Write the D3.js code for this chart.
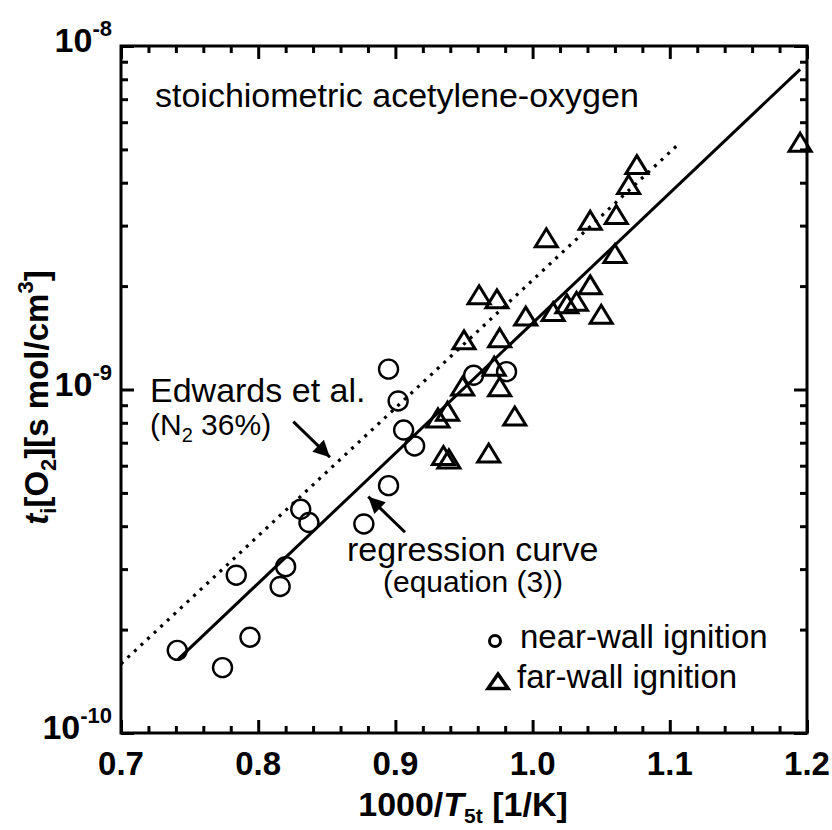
<!DOCTYPE html>
<html>
<head>
<meta charset="utf-8">
<script src="https://cdn.jsdelivr.net/npm/d3@7"></script>
<style>
  body { margin: 0; background: #fff; }
  svg { display: block; font-family: "Liberation Sans", Arial, sans-serif; }
</style>
</head>
<body>
<svg id="chart" width="832" height="830"></svg>
<script>
// near-wall ignition (circles)
const nearX = [0.741, 0.774, 0.794, 0.784, 0.816, 0.820, 0.831, 0.837, 0.877, 0.895, 0.895, 0.902, 0.906, 0.914, 0.957, 0.981];
const nearY = [1.74e-10, 1.55e-10, 1.90e-10, 2.88e-10, 2.67e-10, 3.05e-10, 4.48e-10, 4.10e-10, 4.06e-10, 5.25e-10, 1.146e-9, 9.26e-10, 7.62e-10, 6.85e-10, 1.10e-9, 1.127e-9];

// far-wall ignition (triangles)
const farX = [1.076, 1.070, 1.061, 1.042, 1.010, 1.060, 1.042, 0.961, 0.974, 1.032, 1.025, 1.015, 0.995, 1.050, 0.950, 0.976, 0.972, 0.949, 0.976, 0.938, 0.931, 0.987, 0.935, 0.939, 0.968, 1.195];
const farY = [4.50e-9, 3.94e-9, 3.22e-9, 3.10e-9, 2.755e-9, 2.48e-9, 2.01e-9, 1.88e-9, 1.83e-9, 1.80e-9, 1.77e-9, 1.68e-9, 1.63e-9, 1.65e-9, 1.39e-9, 1.41e-9, 1.165e-9, 1.02e-9, 1.015e-9, 8.62e-10, 8.24e-10, 8.34e-10, 6.40e-10, 6.26e-10, 6.51e-10, 5.23e-9];

// regression curve (equation (3)) and Edwards et al. line, end points
const regX = [0.741, 1.195];
const regY = [1.63e-10, 8.55e-9];
const edwX = [0.7, 1.107];
const edwY = [1.59e-10, 5.21e-9];

// axis ticks
const xMajor = [0.7, 0.8, 0.9, 1.0, 1.1, 1.2];
const xLabels = ["0.7", "0.8", "0.9", "1.0", "1.1", "1.2"];
const yMajor = [1e-10, 1e-9, 1e-8];
const yExp = ["-10", "-9", "-8"];

const svg = d3.select("#chart");
const margin = {top: 46, right: 25, bottom: 97, left: 121};
const width = 832 - margin.left - margin.right,
      height = 830 - margin.top - margin.bottom;

const g = svg.append("g").attr("transform", `translate(${margin.left},${margin.top})`);

const x = d3.scaleLinear().domain([0.7, 1.2]).range([0, width]);
const y = d3.scaleLog().domain([1e-10, 1e-8]).range([height, 0]);

// minor ticks
const xMinor = d3.range(36, 60).map(i => i / 50).filter(v => Math.round(v * 50) % 5 !== 0);
const yMinor = [];
[-10, -9].forEach(e => { for (let k = 2; k <= 9; k++) yMinor.push(k * Math.pow(10, e)); });

function styleAxis(sel) {
  sel.select(".domain").remove();
  sel.selectAll(".tick line").attr("stroke", "#000").attr("stroke-width", 3);
  sel.selectAll(".tick text").remove();
}

// inward ticks on all four sides
g.append("g").attr("transform", `translate(0,${height})`)
  .call(d3.axisBottom(x).tickValues(xMinor).tickSize(-7)).call(styleAxis);
g.append("g").attr("transform", `translate(0,${height})`)
  .call(d3.axisBottom(x).tickValues(xMajor).tickSize(-13)).call(styleAxis);
g.append("g")
  .call(d3.axisTop(x).tickValues(xMinor).tickSize(-7)).call(styleAxis);
g.append("g")
  .call(d3.axisTop(x).tickValues(xMajor).tickSize(-13)).call(styleAxis);
g.append("g")
  .call(d3.axisLeft(y).tickValues(yMinor).tickSize(-7)).call(styleAxis);
g.append("g")
  .call(d3.axisLeft(y).tickValues(yMajor).tickSize(-13)).call(styleAxis);
g.append("g").attr("transform", `translate(${width},0)`)
  .call(d3.axisRight(y).tickValues(yMinor).tickSize(-7)).call(styleAxis);
g.append("g").attr("transform", `translate(${width},0)`)
  .call(d3.axisRight(y).tickValues(yMajor).tickSize(-13)).call(styleAxis);

// frame
g.append("rect")
  .attr("width", width).attr("height", height)
  .attr("fill", "none").attr("stroke", "#000").attr("stroke-width", 3);

// x tick labels
g.selectAll(".xlab").data(xMajor).enter().append("text")
  .attr("x", d => x(d)).attr("y", height + 42)
  .attr("text-anchor", "middle")
  .attr("font-size", 33).attr("font-weight", "bold")
  .text((d, i) => xLabels[i]);

// y tick labels with exponent
yMajor.forEach((v, i) => {
  const t = g.append("text")
    .attr("x", -9).attr("y", y(v) + 6)
    .attr("text-anchor", "end")
    .attr("font-weight", "bold").attr("font-size", 34);
  t.append("tspan").text("10");
  t.append("tspan").attr("font-size", 22).attr("dy", -16).text(yExp[i]);
});

// axis titles
const xt = svg.append("text")
  .attr("x", margin.left + width / 2 - 1).attr("y", 816)
  .attr("text-anchor", "middle")
  .attr("font-size", 34).attr("font-weight", "bold");
xt.append("tspan").text("1000/");
xt.append("tspan").attr("font-style", "italic").text("T");
xt.append("tspan").attr("font-size", 21).attr("dy", 7).text("5t");
xt.append("tspan").attr("dy", -7).text(" [1/K]");

const yt = svg.append("text")
  .attr("transform", `translate(48,${margin.top + height / 2 + 8}) rotate(-90)`)
  .attr("text-anchor", "middle")
  .attr("font-size", 33).attr("font-weight", "bold");
yt.append("tspan").attr("font-style", "italic").text("t");
yt.append("tspan").attr("font-size", 22).attr("dy", 8).text("i");
yt.append("tspan").attr("dy", -8).text("[O");
yt.append("tspan").attr("font-size", 22).attr("dy", 8).text("2");
yt.append("tspan").attr("dy", -8).text("][s mol/cm");
yt.append("tspan").attr("font-size", 22).attr("dy", -15).text("3");
yt.append("tspan").attr("dy", 15).text("]");

// lines
const line = d3.line().x(d => x(d[0])).y(d => y(d[1]));
g.append("path")
  .datum(edwX.map((v, i) => [v, edwY[i]]))
  .attr("d", line)
  .attr("fill", "none").attr("stroke", "#000")
  .attr("stroke-width", 3.2).attr("stroke-dasharray", "3,6");
g.append("path")
  .datum(regX.map((v, i) => [v, regY[i]]))
  .attr("d", line)
  .attr("fill", "none").attr("stroke", "#000").attr("stroke-width", 3);

// markers
const tri = "M0,-9.5L11,8.5L-11,8.5Z";
g.selectAll(".near").data(nearX).enter().append("circle")
  .attr("cx", d => x(d)).attr("cy", (d, i) => y(nearY[i]))
  .attr("r", 9.5)
  .attr("fill", "none").attr("stroke", "#000").attr("stroke-width", 2.4);
g.selectAll(".far").data(farX).enter().append("path")
  .attr("transform", (d, i) => `translate(${x(d)},${y(farY[i])})`)
  .attr("d", tri)
  .attr("fill", "none").attr("stroke", "#000").attr("stroke-width", 3);

// arrows
svg.append("defs").append("marker")
  .attr("id", "head").attr("viewBox", "0 0 10 10")
  .attr("refX", 10).attr("refY", 5)
  .attr("markerWidth", 6.5).attr("markerHeight", 5.5)
  .attr("markerUnits", "strokeWidth")
  .attr("orient", "auto")
  .append("path").attr("d", "M0,0L10,5L0,10Z").attr("fill", "#000");

function arrow(x1, y1, x2, y2) {
  g.append("line")
    .attr("x1", x(x1)).attr("y1", y(y1)).attr("x2", x(x2)).attr("y2", y(y2))
    .attr("stroke", "#000").attr("stroke-width", 3)
    .attr("marker-end", "url(#head)");
}
arrow(0.8256, 8.06e-10, 0.8523, 6.35e-10);
arrow(0.907, 3.84e-10, 0.8802, 4.876e-10);

// annotations (plot coordinates)
function note(px, py, str, size) {
  return g.append("text")
    .attr("x", px).attr("y", py)
    .attr("font-size", size)
    .text(str);
}
note(34, 61, "stoichiometric acetylene-oxygen", 34);
note(29, 356, "Edwards et al.", 34);
const n2 = note(29, 389, "(N", 30);
n2.append("tspan").attr("font-size", 20).attr("dy", 7).text("2");
n2.append("tspan").attr("dy", -7).text(" 36%)");
note(226, 515, "regression curve", 34);
note(262, 546, "(equation (3))", 30);

// legend
g.append("circle")
  .attr("cx", 374).attr("cy", 595)
  .attr("r", 5.5).attr("fill", "none").attr("stroke", "#000").attr("stroke-width", 3);
note(399, 602, "near-wall ignition", 33);
g.append("path")
  .attr("transform", "translate(377,635)")
  .attr("d", "M0,-7L10,7.5L-10,7.5Z")
  .attr("fill", "none").attr("stroke", "#000").attr("stroke-width", 3.5);
note(396, 642, "far-wall ignition", 33);
</script>
</body>
</html>
